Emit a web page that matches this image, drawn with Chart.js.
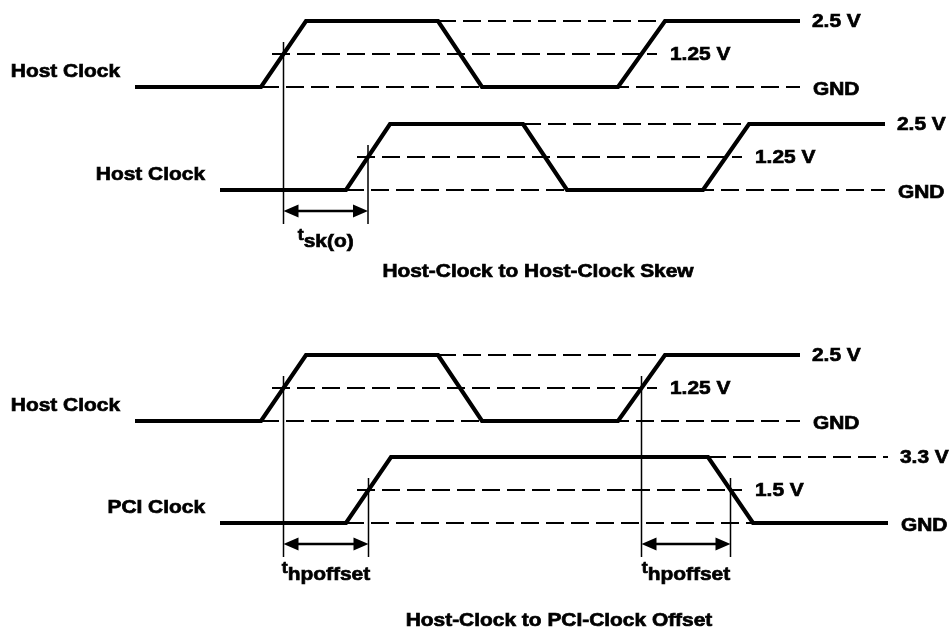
<!DOCTYPE html>
<html>
<head>
<meta charset="utf-8">
<script src="https://cdn.jsdelivr.net/npm/chart.js@4.4.0/dist/chart.umd.min.js"></script>
<style>
  html, body { margin: 0; padding: 0; background: #fff; }
</style>
</head>
<body>
<canvas id="timing" width="951" height="630"></canvas>
<script>
// time axis: same units as the drawing width
const hostEdges = [135, 261, 306, 438, 482, 618, 665, 800];
const hostSkewedEdges = [220, 346, 390, 523, 567, 703, 749, 885];
const pciEdges = [220, 346, 391, 708, 753, 888];
const hostLevels = [0, 0, 1, 1, 0, 0, 1, 1];
const pciLevels = [0, 0, 1, 1, 0, 0];

const hostVolts = ['2.5 V', '1.25 V', 'GND'];
const pciVolts = ['3.3 V', '1.5 V', 'GND'];

// dashed reference spans per lane: high, mid, gnd
const hostRefs = [[438, 665], [272, 657], [261, 800]];
const hostSkewedRefs = [[523, 749], [357, 742], [346, 885]];
const pciRefs = [[708, 888], [357, 742], [346, 753]];

const laneNames = ['Host Clock', 'Host Clock', 'Host Clock', 'PCI Clock'];
const laneEdges = [hostEdges, hostSkewedEdges, hostEdges, pciEdges];
const laneLevels = [hostLevels, hostLevels, hostLevels, pciLevels];
const laneVolts = [hostVolts, hostVolts, hostVolts, pciVolts];
const laneRefs = [hostRefs, hostSkewedRefs, hostRefs, pciRefs];

// layout: ground row of each lane and the swing height
const laneGnd = [87, 190, 421, 523];
const SWING = 66;

// measurements: [upper lane, edge idx, lower lane, edge idx]
const measures = [[0, 1, 1, 1], [2, 1, 3, 1], [2, 5, 3, 3]];
const measureSubs = ['sk(o)', 'hpoffset', 'hpoffset'];
const titles = ['Host-Clock to Host-Clock Skew', 'Host-Clock to PCI-Clock Offset'];
const titlePos = [[538, 272], [559, 621]];

const FONT_FAMILY = '"Liberation Sans", Arial, Helvetica, sans-serif';
const STRETCH = 1.1;

const highY = i => laneGnd[i] - SWING;
const midY = i => laneGnd[i] - SWING / 2;
const crossing = (edges, k) => (edges[k] + edges[k + 1]) / 2;

const line = (pts, width, dash, order) => ({
  data: pts,
  showLine: true,
  pointRadius: 0,
  borderColor: '#000',
  borderWidth: width,
  borderDash: dash || [],
  borderCapStyle: 'butt',
  borderJoinStyle: 'miter',
  tension: 0,
  fill: false,
  order: order
});

const datasets = [];
laneEdges.forEach((edges, i) => {
  const pts = edges.map((t, k) => ({ x: t, y: laneGnd[i] - laneLevels[i][k] * SWING }));
  datasets.push(line(pts, 4.2, null, 0));
  const rows = [highY(i), midY(i), laneGnd[i]];
  laneRefs[i].forEach((span, r) => {
    datasets.push(line([{ x: span[0], y: rows[r] }, { x: span[1], y: rows[r] }], 2, [18, 7], 1));
  });
});

measures.forEach(m => {
  const [a, ea, b, eb] = m;
  const x1 = crossing(laneEdges[a], ea);
  const x2 = crossing(laneEdges[b], eb);
  const bottom = laneGnd[b] + 34;
  datasets.push(line([{ x: x1, y: midY(a) - 12 }, { x: x1, y: bottom }], 1.5, null, 2));
  datasets.push(line([{ x: x2, y: midY(b) - 12 }, { x: x2, y: bottom }], 1.5, null, 2));
  datasets.push(line([{ x: x1 + 10, y: laneGnd[b] + 21 }, { x: x2 - 10, y: laneGnd[b] + 21 }], 2.5, null, 2));
});

// wide, heavy label text like the original drawing
function label(ctx, str, px, py, align, size) {
  ctx.font = 'bold ' + size + 'px ' + FONT_FAMILY;
  const w = ctx.measureText(str).width * STRETCH;
  let left = px;
  if (align === 'right') left = px - w;
  if (align === 'center') left = px - w / 2;
  ctx.save();
  ctx.translate(left, py);
  ctx.scale(STRETCH, 1);
  ctx.textAlign = 'left';
  ctx.lineWidth = 0.7;
  ctx.strokeStyle = '#000';
  ctx.fillText(str, 0, 0);
  ctx.strokeText(str, 0, 0);
  ctx.restore();
  return w;
}

function width(ctx, str, size) {
  ctx.font = 'bold ' + size + 'px ' + FONT_FAMILY;
  return ctx.measureText(str).width * STRETCH;
}

const annotate = {
  id: 'annotate',
  afterDatasetsDraw(chart) {
    const { ctx, scales: { x, y } } = chart;
    ctx.save();
    ctx.fillStyle = '#000';
    ctx.textBaseline = 'middle';

    laneNames.forEach((name, i) => {
      label(ctx, name, x.getPixelForValue(laneEdges[i][0] - 15), y.getPixelForValue(laneGnd[i] - 15), 'right', 19);
      const edges = laneEdges[i];
      const refs = laneRefs[i];
      const last = edges[edges.length - 1];
      const endsHigh = laneLevels[i][edges.length - 1] === 1;
      const hiEnd = Math.max(refs[0][1], endsHigh ? last : 0);
      const gEnd = Math.max(refs[2][1], endsHigh ? 0 : last);
      label(ctx, laneVolts[i][0], x.getPixelForValue(hiEnd + 12), y.getPixelForValue(highY(i) + 1), 'left', 19);
      label(ctx, laneVolts[i][1], x.getPixelForValue(refs[1][1] + 13), y.getPixelForValue(midY(i) + 1), 'left', 19);
      label(ctx, laneVolts[i][2], x.getPixelForValue(gEnd + 13), y.getPixelForValue(laneGnd[i] + 3), 'left', 19);
    });

    // arrow heads and timing labels
    measures.forEach((m, j) => {
      const [a, ea, b, eb] = m;
      const x1 = x.getPixelForValue(crossing(laneEdges[a], ea));
      const x2 = x.getPixelForValue(crossing(laneEdges[b], eb));
      const ay = y.getPixelForValue(laneGnd[b] + 21);
      ctx.beginPath();
      ctx.moveTo(x1, ay);
      ctx.lineTo(x1 + 15, ay - 6.5);
      ctx.lineTo(x1 + 15, ay + 6.5);
      ctx.closePath();
      ctx.moveTo(x2, ay);
      ctx.lineTo(x2 - 15, ay - 6.5);
      ctx.lineTo(x2 - 15, ay + 6.5);
      ctx.closePath();
      ctx.fill();

      ctx.textBaseline = 'alphabetic';
      const tw = width(ctx, 't', 16);
      const sw = width(ctx, measureSubs[j], 19);
      const start = (x1 + x2) / 2 - (tw + sw) / 2;
      const base = y.getPixelForValue(laneGnd[b] + 50);
      label(ctx, 't', start, base, 'left', 16);
      label(ctx, measureSubs[j], start + tw, base + 7, 'left', 19);
      ctx.textBaseline = 'middle';
    });

    titles.forEach((t, k) => {
      label(ctx, t, x.getPixelForValue(titlePos[k][0]), y.getPixelForValue(titlePos[k][1]), 'center', 19);
    });
    ctx.restore();
  }
};

new Chart(document.getElementById('timing'), {
  type: 'scatter',
  data: { datasets },
  options: {
    responsive: false,
    animation: false,
    layout: { padding: 0 },
    plugins: { legend: { display: false }, tooltip: { enabled: false } },
    scales: {
      x: { type: 'linear', min: 0, max: 951, display: false },
      y: { type: 'linear', min: 0, max: 630, reverse: true, display: false }
    }
  },
  plugins: [annotate]
});
</script>
</body>
</html>
